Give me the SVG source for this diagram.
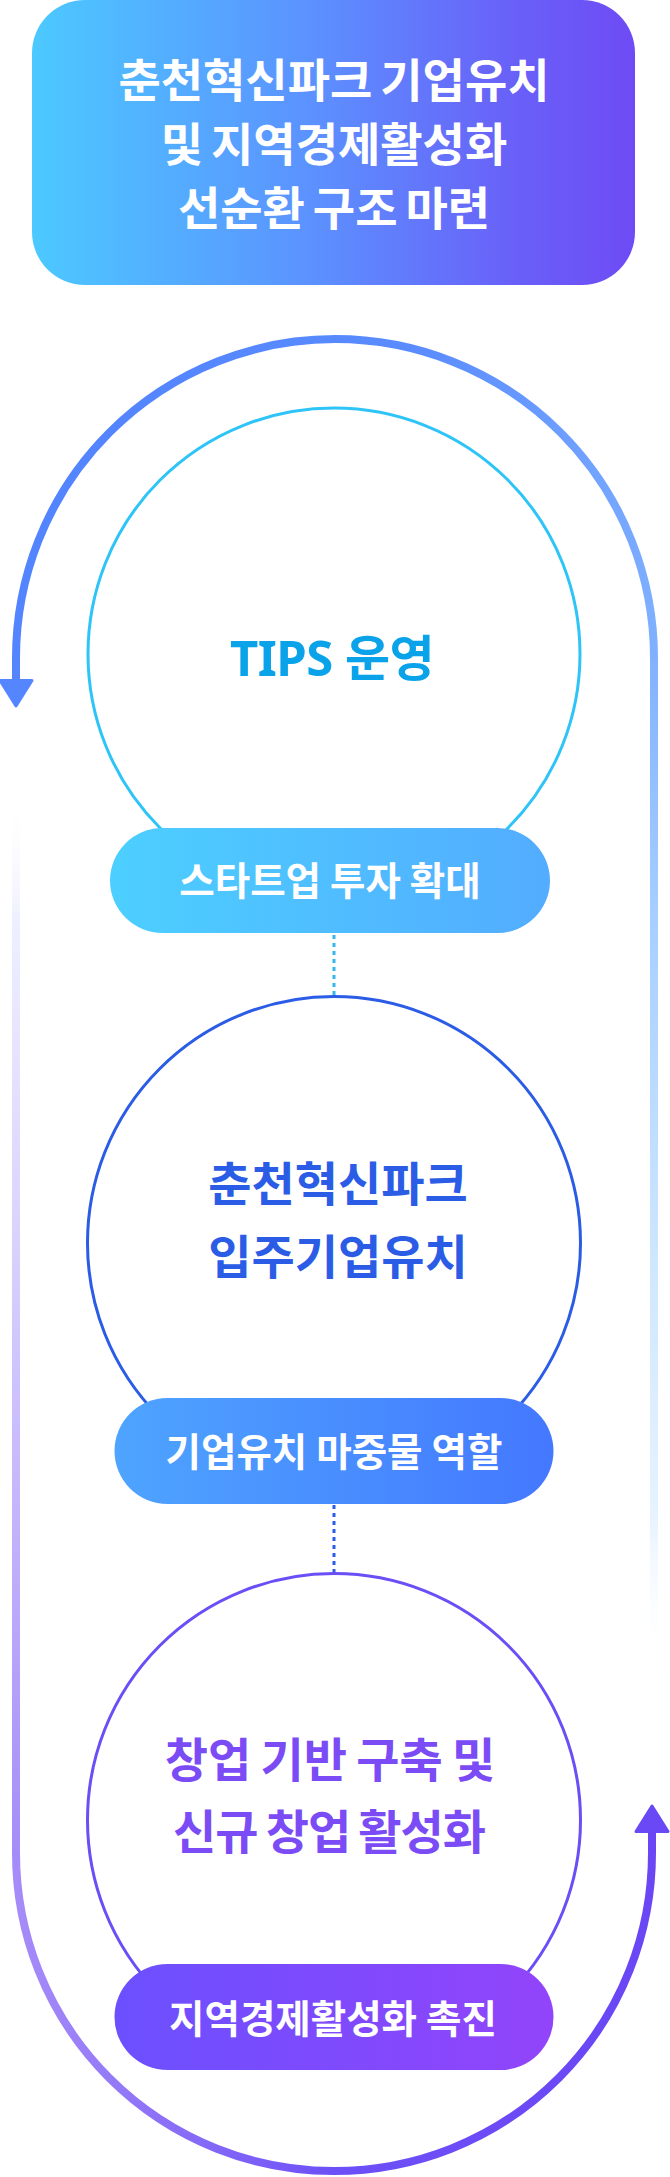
<svg xmlns="http://www.w3.org/2000/svg" width="670" height="2177" viewBox="0 0 670 2177">
  <defs>
    <linearGradient id="gBox" x1="0" y1="0" x2="1" y2="0">
      <stop offset="0" stop-color="#4cc9ff"/>
      <stop offset="0.45" stop-color="#5b93ff"/>
      <stop offset="0.8" stop-color="#6960f8"/>
      <stop offset="1" stop-color="#6e4bf5"/>
    </linearGradient>
    <linearGradient id="gPill1" x1="0" y1="0" x2="1" y2="0">
      <stop offset="0" stop-color="#4ccfff"/>
      <stop offset="1" stop-color="#53acff"/>
    </linearGradient>
    <linearGradient id="gPill2" x1="0" y1="0" x2="1" y2="0">
      <stop offset="0" stop-color="#4ea4ff"/>
      <stop offset="1" stop-color="#4478ff"/>
    </linearGradient>
    <linearGradient id="gPill3" x1="0" y1="0" x2="1" y2="0">
      <stop offset="0" stop-color="#6b50ff"/>
      <stop offset="1" stop-color="#9244fa"/>
    </linearGradient>
    <linearGradient id="gTopArc" gradientUnits="userSpaceOnUse" x1="16" y1="450" x2="654" y2="700">
      <stop offset="0" stop-color="#5283ff"/>
      <stop offset="0.5" stop-color="#5a8cff"/>
      <stop offset="1" stop-color="#82b2ff"/>
    </linearGradient>
    <linearGradient id="gRight" gradientUnits="userSpaceOnUse" x1="0" y1="658" x2="0" y2="1670">
      <stop offset="0" stop-color="#82b2ff"/>
      <stop offset="0.25" stop-color="#a6ceff"/>
      <stop offset="0.6" stop-color="#cfe7ff"/>
      <stop offset="0.85" stop-color="#e7f3ff"/>
      <stop offset="1" stop-color="#ffffff" stop-opacity="0"/>
    </linearGradient>
    <linearGradient id="gLeft" gradientUnits="userSpaceOnUse" x1="0" y1="790" x2="0" y2="1853">
      <stop offset="0" stop-color="#ffffff" stop-opacity="0"/>
      <stop offset="0.12" stop-color="#eef0ff"/>
      <stop offset="0.4" stop-color="#dcd4fe"/>
      <stop offset="0.7" stop-color="#c2b2fb"/>
      <stop offset="1" stop-color="#a68cf8"/>
    </linearGradient>
    <linearGradient id="gBottom" gradientUnits="userSpaceOnUse" x1="16" y1="0" x2="652" y2="0">
      <stop offset="0" stop-color="#a68cf8"/>
      <stop offset="0.5" stop-color="#6d50f7"/>
      <stop offset="1" stop-color="#6a46f5"/>
    </linearGradient>
    <marker id="arrowBlue" markerUnits="userSpaceOnUse" viewBox="0 0 32 36" markerWidth="32" markerHeight="36" refX="6" refY="18" orient="auto" overflow="visible">
      <path d="M1.5,2 L27,18 L1.5,34 Z" fill="#5585ff" stroke="#5585ff" stroke-width="3" stroke-linejoin="round"/>
    </marker>
    <marker id="arrowPurple" markerUnits="userSpaceOnUse" viewBox="0 0 32 36" markerWidth="32" markerHeight="36" refX="6" refY="18" orient="auto" overflow="visible">
      <path d="M1.5,2 L27,18 L1.5,34 Z" fill="#6a48f5" stroke="#6a48f5" stroke-width="3" stroke-linejoin="round"/>
    </marker>
  </defs>
  <style>
    text { font-family: "Noto Sans", "Noto Sans CJK KR", sans-serif; font-weight: 700; text-anchor: middle; }
    .title { fill: #ffffff; font-size: 46px; word-spacing: -4px; }
    .node { fill: none; stroke-width: 3; }
    .ntext { font-size: 47px; word-spacing: -3px; }
    .ptext { fill: #ffffff; font-size: 38.5px; word-spacing: -1px; }
    .loop { fill: none; stroke-width: 8; }
    .dots { stroke-width: 3; stroke-dasharray: 4 4; fill: none; }
  </style>
  <rect x="0" y="0" width="670" height="2177" fill="#ffffff"/>

  <g id="connectors">
    <path class="loop" d="M654,658 A319,319 0 0 0 16,658 L16,685" stroke="url(#gTopArc)" marker-end="url(#arrowBlue)"/>
    <path class="loop" d="M654,658 L654,1670" stroke="url(#gRight)"/>
    <path class="loop" d="M16,790 L16,1853" stroke="url(#gLeft)"/>
    <path class="loop" d="M16,1853 A318,318 0 0 0 652,1853 L652,1827" stroke="url(#gBottom)" marker-end="url(#arrowPurple)"/>
    <line class="dots" x1="334" y1="935" x2="334" y2="996" stroke="#35b8f0"/>
    <line class="dots" x1="334" y1="1505" x2="334" y2="1572" stroke="#2e5ce6"/>
  </g>

  <g id="title">
    <rect x="32" y="0" width="603" height="285" rx="53" fill="url(#gBox)"/>
    <text class="title" x="334" y="97">춘천혁신파크 기업유치</text>
    <text class="title" x="334" y="161">및 지역경제활성화</text>
    <text class="title" x="334" y="225">선순환 구조 마련</text>
  </g>

  <g id="node-tips">
    <circle class="node" cx="334" cy="654" r="246" stroke="#2ec4f8"/>
    <text x="332" y="676" font-size="49" fill="#0aa3e9" letter-spacing="-0.5">TIPS 운영</text>
  </g>
  <g id="pill-startup">
    <rect x="110" y="828" width="440" height="105" rx="52.5" fill="url(#gPill1)"/>
    <text class="ptext" x="330" y="895">스타트업 투자 확대</text>
  </g>

  <g id="node-park">
    <circle class="node" cx="334" cy="1243" r="246.5" stroke="#2b5ce6"/>
    <text class="ntext" x="338" y="1201" fill="#2b5ce6">춘천혁신파크</text>
    <text class="ntext" x="338" y="1274" fill="#2b5ce6">입주기업유치</text>
  </g>
  <g id="pill-bridge">
    <rect x="114.5" y="1398" width="439" height="106" rx="53" fill="url(#gPill2)"/>
    <text class="ptext" x="334" y="1466">기업유치 마중물 역할</text>
  </g>

  <g id="node-startup">
    <circle class="node" cx="334" cy="1820" r="246.5" stroke="#6b4ef6"/>
    <text class="ntext" x="330" y="1777" fill="#7b4cf5">창업 기반 구축 및</text>
    <text class="ntext" x="329" y="1849" fill="#7b4cf5" letter-spacing="-1">신규 창업 활성화</text>
  </g>
  <g id="pill-region">
    <rect x="114.5" y="1964" width="439" height="106" rx="53" fill="url(#gPill3)"/>
    <text class="ptext" x="333" y="2033">지역경제활성화 촉진</text>
  </g>
</svg>
